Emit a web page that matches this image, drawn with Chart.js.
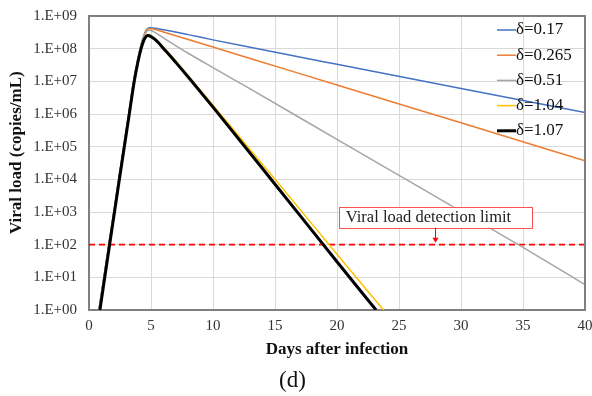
<!DOCTYPE html>
<html>
<head>
<meta charset="utf-8">
<script src="https://cdn.jsdelivr.net/npm/chart.js@4/dist/chart.umd.min.js"></script>
<style>
  html, body { margin: 0; padding: 0; background: #ffffff; }
  #wrap { width: 592px; height: 396px; }
</style>
</head>
<body>
<div id="wrap"><canvas id="c" width="592" height="396"></canvas></div>
<script>
// ---- data ----
const seriesLabels = ['δ=0.17', 'δ=0.265', 'δ=0.51', 'δ=1.04', 'δ=1.07'];

const daysD017 = [0.8, 1.6, 2.4, 3.2, 3.6, 3.9, 4.15, 4.4, 4.6, 4.85, 5.2, 6, 8, 10, 13, 20, 30, 40];
const loadD017 = [1, 1e2, 1e4, 1e6, 1e7, 3.98e7, 1.12e8, 2.4e8, 3.63e8, 4.37e8, 4.27e8, 3.8e8, 2.69e8, 1.86e8, 1.1e8, 3.31e7, 6.03e6, 1.12e6];

const daysD0265 = [0.8, 1.6, 2.4, 3.2, 3.6, 3.9, 4.15, 4.4, 4.6, 4.85, 5.2, 6, 8, 10, 13, 20, 30, 40];
const loadD0265 = [1, 1e2, 1e4, 1e6, 1e7, 3.98e7, 1.12e8, 2.3e8, 3.55e8, 4.17e8, 3.98e8, 3.24e8, 1.91e8, 1.12e8, 5.0e7, 7.76e6, 5.37e5, 3.72e4];

const daysD051 = [0.8, 1.6, 2.4, 3.2, 3.6, 3.9, 4.15, 4.4, 4.6, 4.85, 5.2, 6, 8, 10, 13, 20, 25, 30, 35, 40];
const loadD051 = [1, 1e2, 1e4, 1e6, 1e7, 3.98e7, 1.1e8, 2.24e8, 3.16e8, 3.72e8, 3.31e8, 2.14e8, 7.24e7, 2.63e7, 5.89e6, 1.66e5, 1.32e4, 1.05e3, 83, 6.0];

const daysD104 = [0.85, 1.63, 2.42, 3.22, 3.62, 3.92, 4.17, 4.42, 4.72, 5.0, 5.3, 5.6, 6, 6.5, 7, 8, 10, 15, 20, 23.75];
const loadD104 = [1, 1e2, 1e4, 1e6, 1e7, 3.98e7, 1.05e8, 2.0e8, 2.69e8, 2.51e8, 2.09e8, 1.62e8, 1.12e8, 6.92e7, 4.17e7, 1.48e7, 1.86e6, 1e4, 51, 1];

const daysD107 = [0.88, 1.66, 2.45, 3.25, 3.65, 3.95, 4.2, 4.45, 4.75, 5.0, 5.3, 5.6, 6, 6.5, 7, 8, 10, 15, 20, 23.15];
const loadD107 = [1, 1e2, 1e4, 1e6, 1e7, 3.98e7, 1e8, 1.91e8, 2.51e8, 2.34e8, 1.95e8, 1.51e8, 1.02e8, 6.31e7, 3.8e7, 1.35e7, 1.62e6, 7.08e3, 30, 1];

const limitDays = [0, 40];
const detectionLimit = [100, 100];
const limitLabel = 'Viral load detection limit';

const xTicks = [0, 5, 10, 15, 20, 25, 30, 35, 40];
const yTicks = [1, 1e1, 1e2, 1e3, 1e4, 1e5, 1e6, 1e7, 1e8, 1e9];
const yTickLabels = ['1.E+00', '1.E+01', '1.E+02', '1.E+03', '1.E+04', '1.E+05', '1.E+06', '1.E+07', '1.E+08', '1.E+09'];
const xTitle = 'Days after infection';
const yTitle = 'Viral load (copies/mL)';
const panelLabel = '(d)';

// ---- styles ----
const colors = ['#4472c4', '#ed7d31', '#a5a5a5', '#ffc000', '#000000'];
const widths = [1.5, 1.5, 1.5, 1.5, 3];
const serif = '"Liberation Serif", "Times New Roman", serif';

function pts(xs, ys) { return xs.map((x, i) => ({ x: x, y: ys[i] })); }

const allDays = [daysD017, daysD0265, daysD051, daysD104, daysD107];
const allLoads = [loadD017, loadD0265, loadD051, loadD104, loadD107];
const drawOrder = [4, 3, 2, 1, 0];

const datasets = seriesLabels.map((lab, i) => ({
  label: lab,
  data: pts(allDays[i], allLoads[i]),
  borderColor: colors[i],
  borderWidth: widths[i],
  pointRadius: 0,
  cubicInterpolationMode: 'monotone',
  order: drawOrder[i],
  fill: false
}));
datasets.push({
  label: 'limit',
  data: pts(limitDays, detectionLimit),
  borderColor: '#ff0000',
  borderWidth: 1.8,
  borderDash: [6, 4],
  pointRadius: 0,
  order: 10,
  fill: false
});

const frameAndLegend = {
  id: 'frameAndLegend',
  afterDatasetsDraw(chart) {
    const ctx = chart.ctx;
    const a = chart.chartArea;
    const xs = chart.scales.x, ys = chart.scales.y;
    ctx.save();
    // frame (top and right)
    ctx.strokeStyle = '#808080';
    ctx.lineWidth = 2;
    ctx.beginPath();
    ctx.moveTo(a.left, a.top);
    ctx.lineTo(a.right, a.top);
    ctx.lineTo(a.right, a.bottom);
    ctx.stroke();

    // legend
    ctx.font = '17px ' + serif;
    ctx.textBaseline = 'middle';
    ctx.textAlign = 'left';
    for (let i = 0; i < seriesLabels.length; i++) {
      const y = a.top + 14 + i * 25.2;
      ctx.strokeStyle = colors[i];
      ctx.lineWidth = widths[i];
      ctx.beginPath();
      ctx.moveTo(a.right - 88, y);
      ctx.lineTo(a.right - 69, y);
      ctx.stroke();
      ctx.fillStyle = '#111';
      ctx.fillText(seriesLabels[i], a.right - 69, y);
    }

    // detection limit callout
    const bx0 = xs.getPixelForValue(20.15), bx1 = xs.getPixelForValue(35.68);
    const by0 = ys.getPixelForValue(1450), by1 = ys.getPixelForValue(330);
    ctx.fillStyle = '#ffffff';
    ctx.fillRect(bx0, by0, bx1 - bx0, by1 - by0);
    ctx.strokeStyle = '#ff5050';
    ctx.lineWidth = 1;
    ctx.strokeRect(Math.round(bx0) + 0.5, Math.round(by0) + 0.5, Math.round(bx1 - bx0), Math.round(by1 - by0));
    ctx.fillStyle = '#222';
    ctx.font = '16.5px ' + serif;
    ctx.textBaseline = 'middle';
    ctx.fillText(limitLabel, bx0 + 7, (by0 + by1) / 2 + 0.5);
    // arrow
    const ax = Math.round(xs.getPixelForValue(27.9)) + 0.5;
    const ayEnd = ys.getPixelForValue(detectionLimit[0]) - 2;
    ctx.strokeStyle = '#ff0000';
    ctx.beginPath();
    ctx.moveTo(ax, by1);
    ctx.lineTo(ax, ayEnd - 3);
    ctx.stroke();
    ctx.fillStyle = '#ff0000';
    ctx.beginPath();
    ctx.moveTo(ax - 3, ayEnd - 5);
    ctx.lineTo(ax + 3, ayEnd - 5);
    ctx.lineTo(ax, ayEnd);
    ctx.closePath();
    ctx.fill();

    // y axis title (positioned as in the reference, slightly above centre)
    ctx.fillStyle = '#111';
    ctx.font = 'bold 17px ' + serif;
    ctx.textAlign = 'center';
    ctx.textBaseline = 'middle';
    ctx.translate(17, a.top + (a.bottom - a.top) * 0.465);
    ctx.rotate(-Math.PI / 2);
    ctx.fillText(yTitle, 0, 0);
    ctx.restore();
  }
};

new Chart(document.getElementById('c'), {
  type: 'line',
  data: { datasets: datasets },
  options: {
    responsive: false,
    animation: false,
    devicePixelRatio: 1,
    layout: { padding: { top: 16, right: 7, left: 0, bottom: 0 } },
    plugins: {
      legend: { display: false },
      tooltip: { enabled: false },
      title: {
        display: true,
        position: 'bottom',
        text: panelLabel,
        color: '#111',
        font: { family: serif, size: 23, weight: 'normal', lineHeight: 1.1 },
        padding: { top: 0, bottom: 2 }
      }
    },
    scales: {
      x: {
        type: 'linear',
        min: 0, max: 40,
        afterBuildTicks: (s) => { s.ticks = xTicks.map(v => ({ value: v })); },
        afterFit: (s) => { s.height = 58.7; s.paddingLeft = 0; s.paddingRight = 0; },
        ticks: { color: '#333', font: { family: serif, size: 15 }, padding: 7, maxRotation: 0 },
        grid: { color: '#d9d9d9', lineWidth: 1, drawTicks: false },
        border: { color: '#808080', width: 2 },
        title: {
          display: true, text: xTitle, color: '#111',
          font: { family: serif, size: 17, weight: 'bold', lineHeight: 1.2 },
          padding: { top: 0, bottom: 8.5 }
        }
      },
      y: {
        type: 'logarithmic',
        min: 1, max: 1e9,
        afterBuildTicks: (s) => { s.ticks = yTicks.map(v => ({ value: v })); },
        afterFit: (s) => { s.width = 89; s.paddingTop = 0; s.paddingBottom = 0; },
        ticks: {
          color: '#333', font: { family: serif, size: 15 }, padding: 12,
          callback: (v) => { const i = yTicks.indexOf(v); return i >= 0 ? yTickLabels[i] : ''; }
        },
        grid: { color: '#d9d9d9', lineWidth: 1, drawTicks: false },
        border: { color: '#808080', width: 2 },
        title: { display: false }
      }
    }
  },
  plugins: [frameAndLegend]
});
</script>
</body>
</html>
